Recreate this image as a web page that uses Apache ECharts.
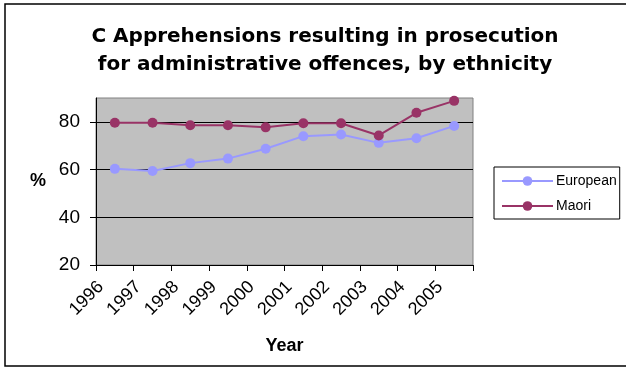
<!DOCTYPE html>
<html>
<head>
<meta charset="utf-8">
<script src="https://cdn.jsdelivr.net/npm/echarts@6/dist/echarts.min.js"></script>
<style>
  html, body { margin: 0; padding: 0; background: #fff; }
</style>
</head>
<body>
<div id="main" style="width: 626px; height: 367px;"></div>
<script type="text/javascript">
    var years = ['1996', '1997', '1998', '1999', '2000', '2001', '2002', '2003', '2004', '2005'];
    var european = [60.3, 59.4, 62.7, 64.6, 68.7, 74.0, 74.7, 71.2, 73.1, 78.3];
    var maori = [79.6, 79.6, 78.6, 78.6, 77.7, 79.4, 79.4, 74.3, 83.8, 88.8];
    var yTicks = [20, 40, 60, 80];

    var myChart = echarts.init(document.getElementById('main'));
    var option = {
        animation: false,
        backgroundColor: '#fff',
        textStyle: {fontFamily: 'Liberation Sans'},
        title: {
            text: 'C Apprehensions resulting in prosecution\nfor administrative offences, by ethnicity',
            left: 320,
            top: 18,
            textAlign: 'center',
            textStyle: {
                fontFamily: 'DejaVu Sans',
                fontSize: 20,
                fontWeight: 'bold',
                lineHeight: 28,
                color: '#000'
            }
        },
        legend: {
            data: ['European', 'Maori'],
            orient: 'vertical',
            left: 494,
            top: 167,
            padding: [7, 3, 6, 7],
            itemGap: 11,
            itemWidth: 51,
            itemHeight: 12,
            borderColor: '#000',
            borderWidth: 1,
            textStyle: {fontSize: 14, color: '#000', padding: [0, 0, 0, -2]}
        },
        grid: {
            left: 96,
            right: 153,
            top: 98,
            bottom: 102,
            show: true,
            backgroundColor: '#c0c0c0',
            borderColor: '#808080',
            borderWidth: 1
        },
        xAxis: {
            type: 'category',
            data: years,
            boundaryGap: true,
            name: 'Year',
            nameLocation: 'middle',
            nameGap: 72,
            nameTextStyle: {fontSize: 18, fontWeight: 'bold', color: '#000'},
            axisLine: {lineStyle: {color: '#000', width: 1}},
            axisTick: {show: true, length: 6, lineStyle: {color: '#000'}},
            axisLabel: {
                rotate: 45,
                interval: 0,
                margin: 5,
                padding: [0, 20, 0, 0],
                fontSize: 18,
                color: '#000'
            },
            splitLine: {show: false}
        },
        yAxis: {
            type: 'value',
            min: 20,
            max: 90,
            interval: 20,
            name: '%',
            nameLocation: 'middle',
            nameRotate: 0,
            nameGap: 50,
            nameTextStyle: {fontSize: 18, fontWeight: 'bold', color: '#000'},
            axisLine: {show: true, lineStyle: {color: '#000', width: 1}},
            axisTick: {show: true, length: 6, lineStyle: {color: '#000'}, customValues: yTicks},
            axisLabel: {fontSize: 19, color: '#000', margin: 16, customValues: yTicks},
            splitLine: {show: true, lineStyle: {color: ['#000', '#000', '#000', '#000', '#808080'], width: 1}}
        },
        series: [
            {
                name: 'European',
                type: 'line',
                data: european,
                symbol: 'circle',
                symbolSize: 10,
                itemStyle: {color: '#9999ff'},
                lineStyle: {color: '#9999ff', width: 2}
            },
            {
                name: 'Maori',
                type: 'line',
                data: maori,
                symbol: 'circle',
                symbolSize: 10,
                itemStyle: {color: '#993366'},
                lineStyle: {color: '#993366', width: 2}
            }
        ],
        graphic: [
            {
                type: 'rect',
                shape: {x: 5, y: 4, width: 640, height: 362},
                style: {fill: 'none', stroke: '#000', lineWidth: 1.5},
                silent: true
            }
        ]
    };
    myChart.setOption(option);
</script>
</body>
</html>
